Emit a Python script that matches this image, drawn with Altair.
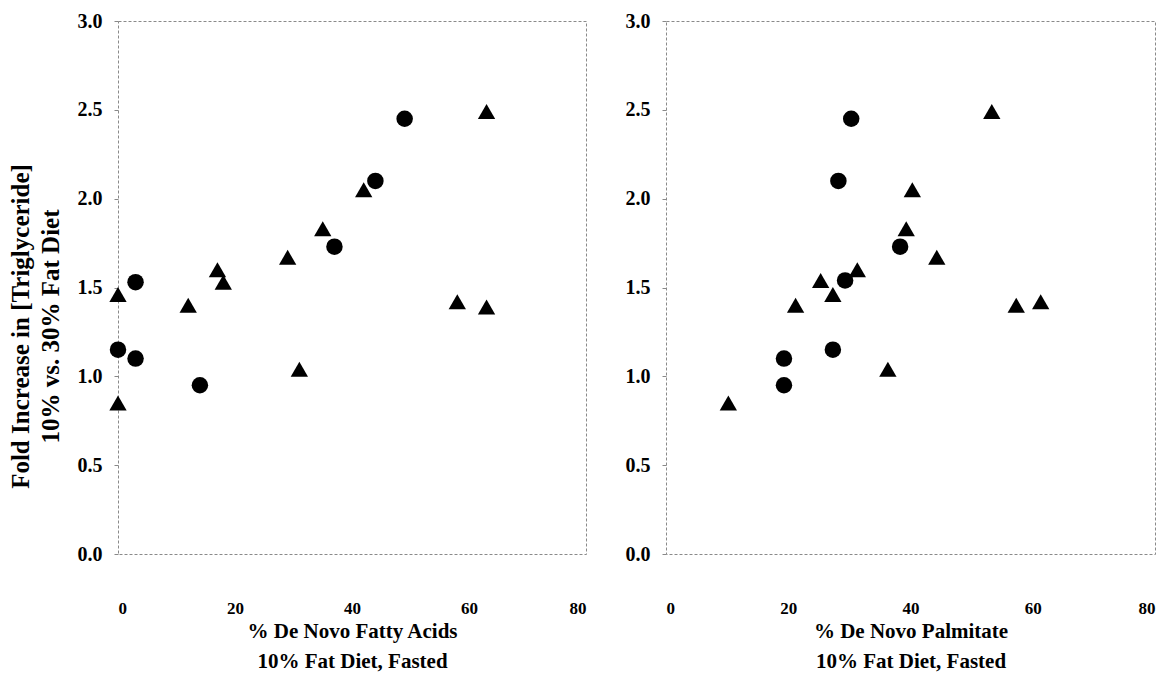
import altair as alt
import pandas as pd

# ---- data ----
y_ticks = [0.0, 0.5, 1.0, 1.5, 2.0, 2.5, 3.0]
x_ticks = [0, 20, 40, 60, 80]

# Left panel: % De Novo Fatty Acids
fa_tri_x = [0, 0, 12, 17, 18, 29, 31, 35, 42, 58, 63, 63]
fa_tri_y = [1.46, 0.85, 1.40, 1.60, 1.53, 1.67, 1.04, 1.83, 2.05, 1.42, 1.39, 2.49]
fa_cir_x = [0, 3, 3, 14, 37, 44, 49]
fa_cir_y = [1.15, 1.10, 1.53, 0.95, 1.73, 2.10, 2.45]

# Right panel: % De Novo Palmitate
pa_tri_x = [10.2, 21.2, 25.3, 27.3, 31.3, 36.3, 39.3, 40.3, 44.3, 53.3, 57.3, 61.3]
pa_tri_y = [0.85, 1.40, 1.54, 1.46, 1.60, 1.04, 1.83, 2.05, 1.67, 2.49, 1.40, 1.42]
pa_cir_x = [19.3, 19.3, 27.3, 28.2, 29.3, 30.3, 38.3]
pa_cir_y = [1.10, 0.95, 1.15, 2.10, 1.54, 2.45, 1.73]

left_x_title = ["% De Novo Fatty Acids", "10% Fat Diet, Fasted"]
right_x_title = ["% De Novo Palmitate", "10% Fat Diet, Fasted"]
y_title = ["Fold Increase in [Triglyceride]", "10% vs. 30% Fat Diet"]

FONT = "Liberation Serif"
PLOT_H = 533


def panel(tx, ty, cx, cy, xtitle, ytitle, width):
    tri = pd.DataFrame({"x": tx, "y": ty})
    cir = pd.DataFrame({"x": cx, "y": cy})
    yaxis_kw = dict(values=y_ticks, format=".1f", tickSize=4, labelPadding=12,
                    labelFontSize=20, titlePadding=14, titleLineHeight=30,
                    titleFontSize=25, titleY=305)
    yaxis_kw["title"] = ytitle
    x = alt.X("x:Q", scale=alt.Scale(domain=[0, 80], nice=False, zero=False),
              axis=alt.Axis(values=x_ticks, title=xtitle, tickSize=0,
                            labelPadding=46, labelFontSize=17,
                            titlePadding=4, titleFontSize=21,
                            titleLineHeight=30))
    y = alt.Y("y:Q", scale=alt.Scale(domain=[0, 3], nice=False),
              axis=alt.Axis(**yaxis_kw))
    t = alt.Chart(tri).mark_point(shape="triangle-up", size=300, filled=True,
                                  color="black", opacity=1, strokeWidth=0
                                  ).encode(x=x, y=y)
    c = alt.Chart(cir).mark_point(shape="circle", size=272, filled=True,
                                  color="black", opacity=1, strokeWidth=0
                                  ).encode(x=x, y=y)
    return alt.layer(t, c).properties(width=width, height=PLOT_H)


left = panel(fa_tri_x, fa_tri_y, fa_cir_x, fa_cir_y, left_x_title, y_title, 468)
right = panel(pa_tri_x, pa_tri_y, pa_cir_x, pa_cir_y, right_x_title, None, 489)

chart = alt.hconcat(left, right, spacing=37).properties(
    padding={"left": 7, "top": 10, "right": 5, "bottom": 5},
    background="white",
).configure_axis(
    labelFont=FONT, titleFont=FONT,
    labelFontWeight="bold", titleFontWeight="bold",
    labelColor="black", titleColor="black",
    tickColor="#888888",
    grid=False, domain=False,
).configure_view(
    stroke="#8a8a8a", strokeDash=[3, 2], strokeWidth=1,
)

chart.save("out.html", embed_options={"renderer": "svg", "actions": False})
